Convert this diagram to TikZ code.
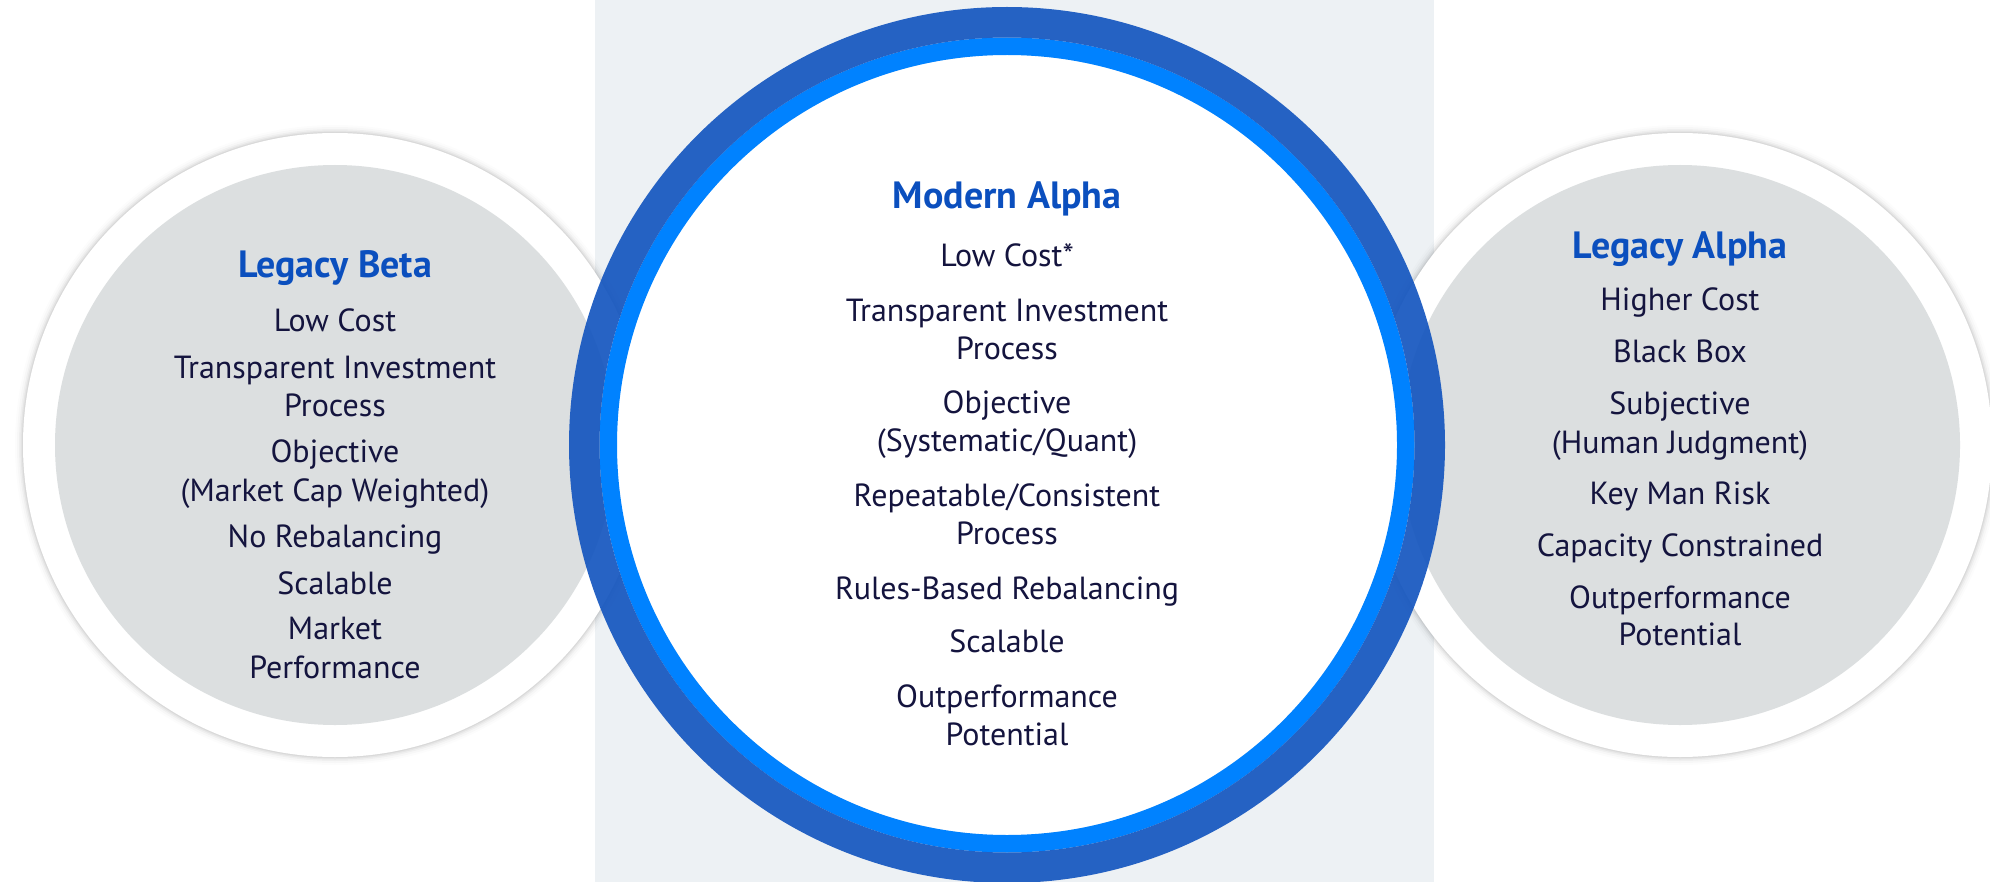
\documentclass[tikz,border=0pt]{standalone}
\usepackage{fontspec}
\setmainfont{PT Sans}
\definecolor{panelbg}{HTML}{EDF1F4}
\definecolor{sidegray}{HTML}{DCDFE0}
\definecolor{ringdark}{RGB}{21,86,191}
\definecolor{ringbright}{HTML}{0082FF}
\definecolor{titleblue}{RGB}{11,79,190}
\definecolor{bodytext}{RGB}{20,20,62}
\tikzset{
  itemtext/.style={anchor=base, inner sep=0pt, text=bodytext, font=\fontsize{16}{19}\selectfont},
  titletext/.style={anchor=base, inner sep=0pt, text=titleblue, font=\fontsize{19}{23}\selectfont\bfseries}
}
\begin{document}
\begin{tikzpicture}[x=0.5pt,y=-0.5pt]
\useasboundingbox (0,0) rectangle (1990,882);
\fill[white] (0,0) rectangle (1990,882);
\fill[panelbg] (595,0) rectangle (1434,882);
% side circles with soft shadow
\foreach \cx in {335,1680}{
  \foreach \dr/\op in {8/0.012,6/0.02,4/0.03,2.5/0.04,1.2/0.05}{
    \fill[black, opacity=\op] (\cx,445) circle [radius=312+\dr];
  }
  \fill[white] (\cx,445) circle [radius=312];
  \fill[sidegray] (\cx,445) circle [radius=280];
}
% central circle
\fill[white] (1007,445) circle [radius=390];
\fill[ringbright, even odd rule] (1007,445) circle [radius=407.5] circle [radius=390];
\fill[ringdark, opacity=0.92, even odd rule] (1007,445) circle [radius=438] circle [radius=407.5];
% left texts
\node[titletext] (ltitle) at (335,278) {Legacy Beta};
\foreach \t/\y [count=\i] in {{Low Cost}/331,{Transparent Investment}/378,{Process}/416,{Objective}/462.5,{(Market Cap Weighted)}/501,{No Rebalancing}/547,{Scalable}/594,{Market}/639,{Performance}/678.6}{
  \node[itemtext] (l\i) at (335,\y) {\t};
}
% center texts
\node[titletext] (ctitle) at (1007,209) {Modern Alpha};
\foreach \t/\y [count=\i] in {{Low Cost*}/266,{Transparent Investment}/321.7,{Process}/359,{Objective}/413.4,{(Systematic/Quant)}/451.6,{Repeatable/Consistent}/506,{Process}/544.4,{Rules-Based Rebalancing}/599.5,{Scalable}/652.4,{Outperformance}/707.5,{Potential}/745}{
  \node[itemtext] (c\i) at (1007,\y) {\t};
}
% right texts
\node[titletext] (rtitle) at (1680,258.5) {Legacy Alpha};
\foreach \t/\y [count=\i] in {{Higher Cost}/310.7,{Black Box}/362.5,{Subjective}/414.7,{(Human Judgment)}/453.6,{Key Man Risk}/504,{Capacity Constrained}/556,{Outperformance}/608,{Potential}/645.5}{
  \node[itemtext] (r\i) at (1680,\y) {\t};
}
\end{tikzpicture}
\end{document}
